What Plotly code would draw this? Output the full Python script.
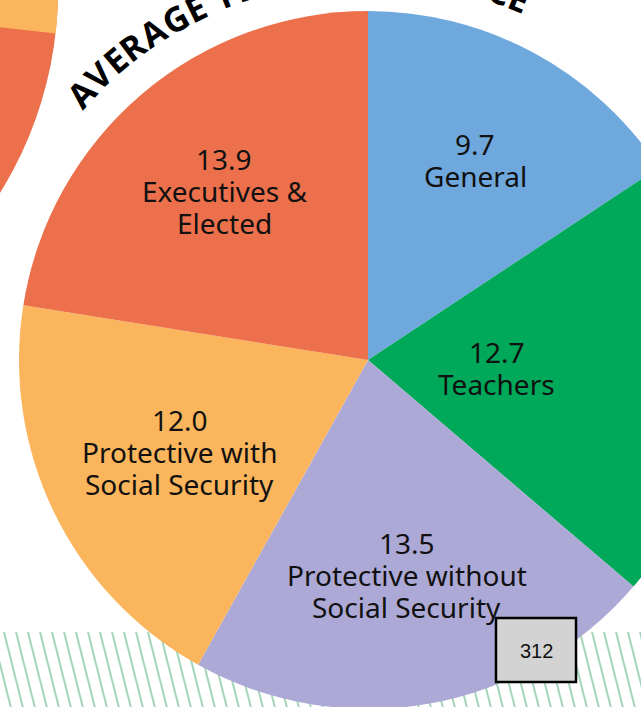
import numpy as np
import plotly.graph_objects as go

# data
categories = ["General", "Teachers", "Protective without<br>Social Security",
              "Protective with<br>Social Security", "Executives &<br>Elected"]
avg_years = [9.7, 12.7, 13.5, 12.0, 13.9]
slice_colors = ["#6FA8DC", "#00A859", "#ADA9D6", "#FBB55C", "#EC704B"]

title_text = "AVERAGE YEARS OF SERVICE"
page_number = "312"

# figure is bigger than the window: the picture is a crop of a larger page
W, H = 760, 760
CX, CY, R = 368, 360, 349  # pie centre / radius in px
label_r = [0.65, 0.37, 0.625, 0.60, 0.635]  # how far out each label sits (fraction of radius)
line_gap = 32


def px(x):
    return x / W


def py(y):
    return 1 - y / H


fig = go.Figure()

fig.add_trace(go.Pie(
    labels=categories,
    values=avg_years,
    sort=False,
    direction="clockwise",
    rotation=0,
    marker=dict(colors=slice_colors, line=dict(width=0)),
    textinfo="none",
    hoverinfo="skip",
    domain=dict(x=[px(CX - R), px(CX + R)], y=[py(CY + R), py(CY - R)]),
))

annotations = []

# slice labels, placed on each slice's mid angle (clockwise from 12 o'clock)
vals = np.array(avg_years)
ends = np.cumsum(vals) / vals.sum() * 360
mids = ends - vals / vals.sum() * 360 / 2
for lab, v, mid, rf in zip(categories, avg_years, mids, label_r):
    lines = [f"{v:.1f}"] + lab.split("<br>")
    t = np.radians(mid)
    lx = CX + rf * R * np.sin(t)
    ly = CY - rf * R * np.cos(t)
    for k, line in enumerate(lines):
        off = (k - (len(lines) - 1) / 2) * line_gap
        annotations.append(dict(
            text=line, x=px(lx), y=py(ly + off), xref="paper", yref="paper",
            showarrow=False, xanchor="center", yanchor="middle",
            font=dict(family="Noto Sans", size=28, color="#111111")))

shapes = []

# green hatching along the bottom of the page
hatch = []
top, step, lean = 632, 12, 0.25
for x0 in np.arange(4 - 240, W + 12, step):
    x1 = x0 + lean * (H - top)
    hatch.append(f"M{px(x0):.5f},{py(top):.5f} L{px(x1):.5f},{py(H):.5f}")
shapes.append(dict(type="path", xref="paper", yref="paper", path=" ".join(hatch),
                   line=dict(color="#A3D6B8", width=2), layer="below"))

# neighbouring pie from the facing section (top-left corner)
lcx, lcy, lr = -326, -10, 384
shapes.append(dict(type="circle", xref="paper", yref="paper",
                   x0=px(lcx - lr), x1=px(lcx + lr), y0=py(lcy + lr), y1=py(lcy - lr),
                   fillcolor="#EC704B", line=dict(width=0), layer="below"))
angs = np.radians(np.linspace(6.5, -60, 40))
pts = [f"L{px(lcx + lr * np.cos(a)):.5f},{py(lcy + lr * np.sin(a)):.5f}" for a in angs]
shapes.append(dict(type="path", xref="paper", yref="paper",
                   path=f"M{px(lcx):.5f},{py(lcy):.5f} " + " ".join(pts) + " Z",
                   fillcolor="#FBB55C", line=dict(width=0), layer="below"))

# page number box
shapes.append(dict(type="rect", xref="paper", yref="paper",
                   x0=px(496), x1=px(576), y0=py(682), y1=py(618),
                   fillcolor="#D3D3D3", line=dict(color="black", width=2.5), layer="above"))
annotations.append(dict(text=page_number, x=px(536), y=py(651), xref="paper", yref="paper",
                        showarrow=False, xanchor="center", yanchor="middle",
                        font=dict(family="Liberation Sans", size=20, color="#111111")))

# curved title: one annotation per letter along an arc around the pie
widths = {"A": .69, "V": .67, "E": .56, "R": .66, "G": .72, "Y": .62, "S": .56,
          "O": .78, "F": .55, "C": .63, "I": .32, " ": .26}
em, r_text, start = 36.5, 392, -47.0
pos = -widths[title_text[0]] / 2
for ch in title_text:
    w = widths[ch]
    centre = pos + w / 2
    pos += w
    if ch == " ":
        continue
    theta = start + np.degrees(centre * em / r_text)
    t = np.radians(theta)
    annotations.append(dict(
        text=ch, x=px(CX + r_text * np.sin(t)), y=py(CY - r_text * np.cos(t)),
        xref="paper", yref="paper", showarrow=False, textangle=theta,
        xanchor="center", yanchor="middle",
        font=dict(family="Open Sans", size=34, color="black", weight=700)))

fig.update_layout(
    width=W, height=H,
    margin=dict(l=0, r=0, t=0, b=0),
    paper_bgcolor="white",
    showlegend=False,
    shapes=shapes,
    annotations=annotations,
)

fig.write_html("out.html", post_script=(
    "document.body.style.margin='0';"
    "document.body.style.overflow='hidden';"
    "document.documentElement.style.overflow='hidden';"))
